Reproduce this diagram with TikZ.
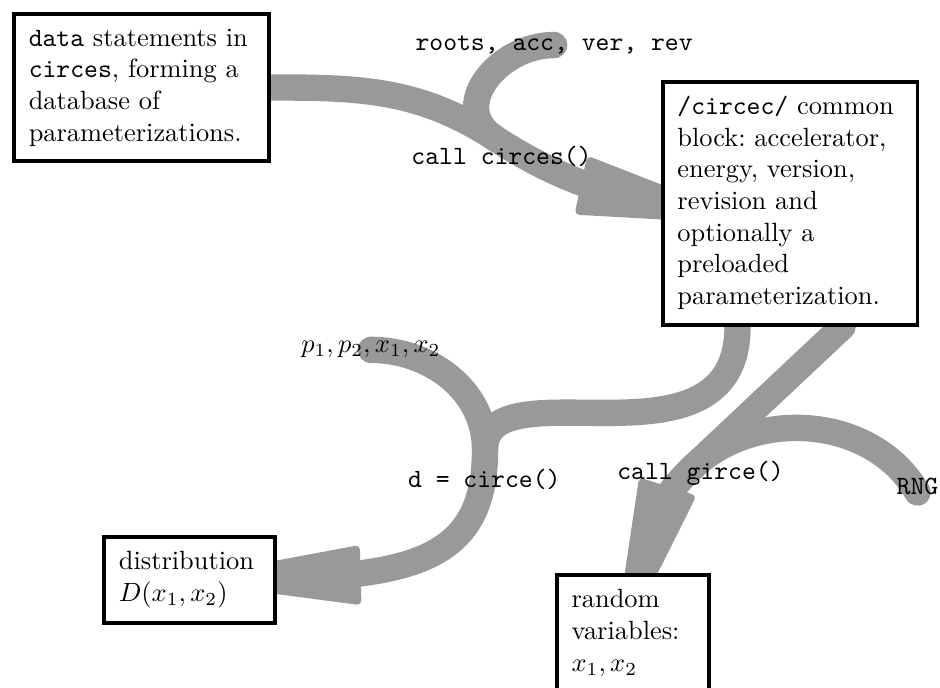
\documentclass[tikz,border=0pt]{standalone}
\usetikzlibrary{arrows.meta,bending,backgrounds}

\tikzset{
  box/.style={draw, line width=1.5pt, fill=white, inner sep=5.6pt, align=left, anchor=north west, font=\frenchspacing},
  flow/.style={draw=black!40, line width=10pt, line cap=round},
  flowtip/.style={-{Triangle[length=72pt,width=22pt,line width=3pt,round]}},
  lbl/.style={inner sep=0pt}
}

\begin{document}
\begin{tikzpicture}
	% Frame
	\useasboundingbox (0,0) rectangle (12.52,9.16);
	
	% Boxes
	\node[box, text width=3cm] (data) at (0.16,9.00) {\texttt{data} statements in\\ \texttt{circes}, forming a\\ database of\\ parameterizations.};
	\node[box, text width=3cm] (circec) at (8.80,8.10) {\texttt{/circec/} common\\ block: accelerator,\\ energy, version,\\ revision and\\ optionally a\\ preloaded\\ parameterization.};
	\node[box, text width=1.88cm] (dist) at (1.36,2.04) {distribution\\ $D(x_1,x_2)$};
	\node[box, text width=1.63cm] (rand) at (7.39,1.53) {random\\ variables:\\ $x_1,x_2$};
	
	% Labels
	\node[lbl, font=\ttfamily] (roots) at (7.38,8.56) {roots, acc, ver, rev};
	\node[lbl, font=\ttfamily] (callcirces) at (6.68,7.08) {call circes()};
	\node[lbl] (params) at (4.94,4.50) {$p_1,p_2,x_1,x_2$};
	\node[lbl, font=\ttfamily] (callcirce) at (6.45,2.77) {d = circe()};
	\node[lbl, font=\ttfamily] (callgirce) at (9.33,2.85) {call girce()};
	\node[lbl, font=\ttfamily] (rng) at (12.22,2.68) {RNG};
	
	% Junctions and tips
	\coordinate (j1) at (6.59,7.32);
	\coordinate (t1) at (9.92,6.22);
	\coordinate (j2) at (6.46,3.17);
	\coordinate (t2) at (2.57,1.44);
	\coordinate (j3) at (9.19,2.90);
	\coordinate (t3) at (8.22,0.55);
	
	% Flows
	\begin{scope}[on background layer]
		\draw[flow, flowtip] (data.east) to[out=0,in=147] (j1) to[out=-33,in=170] (t1);
		\draw[flow] (roots.center) to[out=180,in=147,looseness=1.3] (j1);
		
		\draw[flow, flowtip] ([xshift=-0.7cm]circec.south) to[out=-90,in=90,out looseness=1.4,in looseness=0.8] (j2) to[out=-90,in=0,in looseness=1.6] (t2);
		\draw[flow] (params.center) to[out=0,in=90] (j2);
		
		\draw[flow, flowtip] ([xshift=0.7cm]circec.south) -- (j3) to[out=224,in=70] (t3);
		\draw[flow] ([yshift=-0.08cm]rng.center) to[out=120,in=45] (j3);
	\end{scope}
\end{tikzpicture}
\end{document}
